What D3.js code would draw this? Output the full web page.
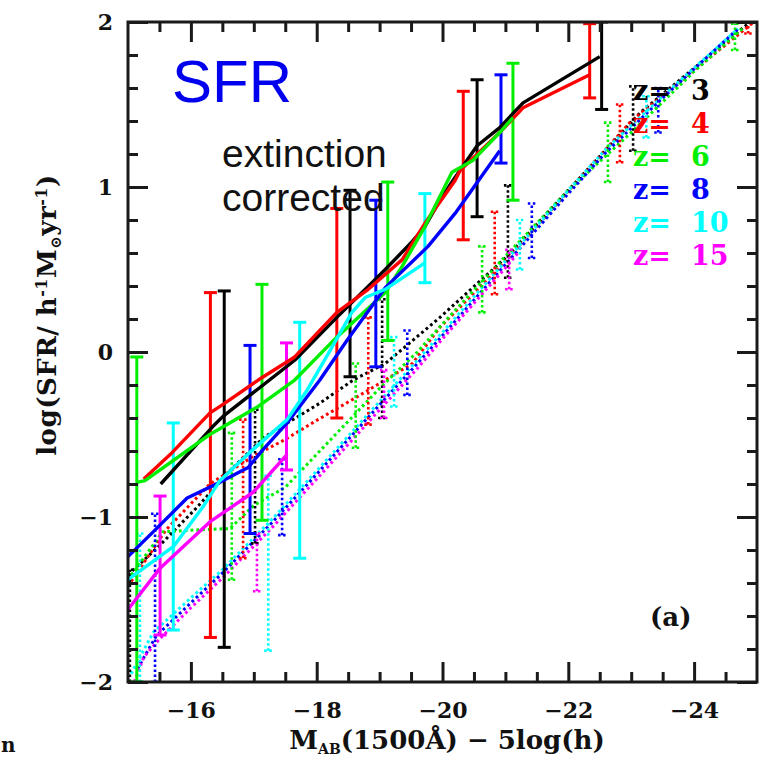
<!DOCTYPE html>
<html>
<head>
<meta charset="utf-8">
<script src="https://cdn.jsdelivr.net/npm/d3@7"></script>
<style>
  html, body { margin: 0; padding: 0; background: #fff; }
  svg { display: block; }
  .tick-label { font-family: "DejaVu Serif", serif; font-weight: bold; font-size: 22px; fill: #111; }
</style>
</head>
<body>
<svg id="chart" width="765" height="765"></svg>
<script>
// ---- data ----------------------------------------------------------------
const redshifts = [3, 4, 6, 8, 10, 15];

// Extinction-corrected mean SFR vs. magnitude: [M_AB, log SFR]
const corrZ3  = [[-15.52,-0.80],[-16.34,-0.455],[-16.51,-0.39],[-17.65,-0.05],[-18.32,0.21],[-19.09,0.50],[-19.52,0.67],[-19.72,0.76],[-19.96,0.92],[-20.15,1.03],[-20.55,1.25],[-20.91,1.36],[-21.28,1.51],[-22.50,1.79]];
const corrZ4  = [[-15.25,-0.77],[-15.70,-0.61],[-16.30,-0.37],[-16.54,-0.31],[-17.07,-0.17],[-17.65,-0.03],[-18.32,0.24],[-18.82,0.38],[-19.36,0.56],[-19.72,0.78],[-20.20,1.04],[-20.28,1.10],[-20.91,1.33],[-21.28,1.48],[-22.34,1.68]];
const corrZ6  = [[-15.14,-0.79],[-15.27,-0.78],[-16.30,-0.50],[-17.07,-0.33],[-17.65,-0.17],[-18.32,0.09],[-19.09,0.36],[-19.36,0.52],[-19.72,0.76],[-20.15,1.09],[-20.48,1.16],[-20.91,1.33],[-21.12,1.42]];
const corrZ8  = [[-15.00,-1.24],[-15.40,-1.09],[-15.94,-0.885],[-16.46,-0.79],[-16.91,-0.70],[-17.15,-0.59],[-17.53,-0.43],[-18.05,-0.17],[-18.48,0.07],[-19.09,0.39],[-19.77,0.64],[-20.20,0.84],[-20.91,1.22]];
const corrZ10 = [[-15.00,-1.38],[-15.72,-1.18],[-16.19,-0.94],[-16.46,-0.78],[-16.99,-0.59],[-17.53,-0.41],[-17.85,-0.23],[-18.26,0.04],[-18.56,0.24],[-18.77,0.33],[-19.09,0.38],[-19.72,0.54]];
const corrZ15 = [[-15.00,-1.56],[-15.51,-1.31],[-16.30,-1.03],[-16.99,-0.85],[-17.53,-0.62]];

// Error bars of the corrected sample: [M_AB, low, high]
const corrErrZ3  = [[-16.53,-1.79,0.37],[-18.53,-0.15,0.98],[-20.55,0.82,1.65],[-22.53,1.47,2.00]];
const corrErrZ4  = [[-16.31,-1.73,0.36],[-18.32,-0.40,0.87],[-20.33,0.68,1.58],[-22.34,1.54,1.99]];
const corrErrZ6  = [[-15.14,-2.00,-0.03],[-17.13,-1.02,0.41],[-19.13,0.07,1.03],[-21.12,0.92,1.75]];
const corrErrZ8  = [[-16.94,-1.10,0.04],[-18.94,-0.09,0.92],[-20.93,1.145,1.68]];
const corrErrZ10 = [[-15.72,-1.685,-0.43],[-17.73,-1.25,0.18],[-19.72,0.42,0.96]];
const corrErrZ15 = [[-15.51,-1.715,-0.873],[-17.52,-0.715,0.055]];

// Uncorrected SFR (dotted): [M_AB, log SFR]
const rawZ3  = [[-15.00,-1.35],[-15.51,-1.17],[-16.10,-0.94],[-16.62,-0.72],[-17.15,-0.52],[-18.05,-0.31],[-18.58,-0.17],[-19.09,-0.07],[-19.96,0.21],[-21.03,0.58],[-23.14,1.45],[-24.89,2.00]];
const rawZ4  = [[-15.00,-1.42],[-15.60,-1.08],[-16.30,-0.80],[-17.00,-0.63],[-17.50,-0.53],[-18.02,-0.41],[-18.56,-0.29],[-19.09,-0.17],[-19.52,-0.07],[-19.96,0.15],[-21.00,0.55],[-23.00,1.40],[-24.95,2.00]];
const rawZ6  = [[-15.00,-1.38],[-15.55,-1.09],[-16.00,-1.08],[-16.62,-1.07],[-17.00,-0.93],[-17.50,-0.82],[-18.00,-0.62],[-19.00,-0.22],[-19.60,0.00],[-20.00,0.17],[-21.00,0.58],[-22.00,0.98],[-23.00,1.33],[-24.00,1.70],[-24.80,1.97]];
const rawZ8  = [[-15.15,-1.92],[-15.45,-1.72],[-16.00,-1.52],[-16.50,-1.34],[-17.30,-1.03],[-18.00,-0.74],[-19.00,-0.32],[-19.60,-0.07],[-20.00,0.10],[-21.00,0.53],[-22.00,0.96],[-22.60,1.21],[-23.50,1.54],[-24.70,1.96]];
const rawZ10 = [[-15.05,-1.95],[-15.40,-1.70],[-16.00,-1.49],[-16.50,-1.32],[-17.30,-1.01],[-18.00,-0.72],[-19.00,-0.30],[-19.60,-0.05],[-20.00,0.12],[-21.00,0.55],[-22.00,0.98],[-22.60,1.23],[-23.50,1.55],[-24.70,1.96]];
const rawZ15 = [[-15.10,-2.00],[-15.25,-1.85],[-15.50,-1.74],[-16.00,-1.55],[-16.50,-1.37],[-17.30,-1.06],[-18.00,-0.77],[-19.00,-0.35],[-19.60,-0.10],[-20.00,0.08],[-21.00,0.51],[-21.20,0.60]];

// Error bars of the uncorrected sample: [M_AB, low, high]
const rawErrZ3  = [[-15.03,-2.00,-1.32],[-17.02,-1.16,-0.35],[-19.04,-0.40,0.32],[-21.04,0.45,1.01],[-23.03,1.22,1.61]];
const rawErrZ4  = [[-16.83,-1.25,-0.41],[-18.82,-0.44,0.21],[-20.83,0.35,0.85],[-22.82,1.15,1.50],[-24.86,1.93,2.00]];
const rawErrZ6  = [[-16.65,-1.38,-0.49],[-18.62,-0.58,-0.07],[-20.63,0.24,0.64],[-22.63,1.03,1.39],[-24.65,1.83,1.99]];
const rawErrZ8  = [[-15.43,-2.00,-0.98],[-17.45,-1.11,-0.65],[-19.44,-0.26,0.13],[-21.42,0.57,0.90],[-23.43,1.33,1.60]];
const rawErrZ10 = [[-15.19,-2.00,-1.10],[-17.23,-1.81,-0.75],[-19.23,-0.33,0.09],[-21.23,0.50,0.80],[-23.24,1.30,1.55]];
const rawErrZ15 = [[-17.05,-1.45,-1.10],[-19.07,-0.40,-0.11],[-21.06,0.38,0.62]];

// Axis ticks
const xMajorTicks = [-16, -18, -20, -22, -24];
const yMajorTicks = [-2, -1, 0, 1, 2];

// ---- drawing ---------------------------------------------------------------
const palette = ["#000000", "#ff0000", "#00ee00", "#0000ff", "#00ffff", "#ff00ff"];
const corrected = [corrZ3, corrZ4, corrZ6, corrZ8, corrZ10, corrZ15];
const correctedErr = [corrErrZ3, corrErrZ4, corrErrZ6, corrErrZ8, corrErrZ10, corrErrZ15];
const raw = [rawZ3, rawZ4, rawZ6, rawZ8, rawZ10, rawZ15];
const rawErr = [rawErrZ3, rawErrZ4, rawErrZ6, rawErrZ8, rawErrZ10, rawErrZ15];

const svg = d3.select("#chart");
const plotLeft = 128, plotRight = 757, plotTop = 22, plotBottom = 682;

const x = d3.scaleLinear().domain([-15, -25]).range([plotLeft, plotRight]);
const y = d3.scaleLinear().domain([-2, 2]).range([plotBottom, plotTop]);

const clipId = "plot-clip";
svg.append("defs").append("clipPath").attr("id", clipId)
  .append("rect").attr("x", plotLeft).attr("y", plotTop)
  .attr("width", plotRight - plotLeft).attr("height", plotBottom - plotTop);

const plot = svg.append("g").attr("clip-path", `url(#${clipId})`);
const line = d3.line().x(d => x(d[0])).y(d => y(d[1]));

// dotted (uncorrected) curves and their error bars
raw.forEach((series, i) => {
  plot.append("path").datum(series)
    .attr("d", line)
    .attr("fill", "none")
    .attr("stroke", palette[i])
    .attr("stroke-width", 3)
    .attr("stroke-dasharray", "2.8,3");
});
rawErr.forEach((bars, i) => {
  const g = plot.append("g")
    .attr("stroke", palette[i])
    .attr("stroke-width", 2.6)
    .attr("stroke-dasharray", "2.5,2.5")
    .attr("fill", "none");
  bars.forEach(b => {
    const cx = x(b[0]);
    g.append("line").attr("x1", cx).attr("x2", cx).attr("y1", y(b[1])).attr("y2", y(b[2]));
    g.append("line").attr("x1", cx - 4).attr("x2", cx + 4).attr("y1", y(b[1])).attr("y2", y(b[1]));
    g.append("line").attr("x1", cx - 4).attr("x2", cx + 4).attr("y1", y(b[2])).attr("y2", y(b[2]));
  });
});

// solid (extinction corrected) error bars and curves
correctedErr.forEach((bars, i) => {
  const g = plot.append("g")
    .attr("stroke", palette[i])
    .attr("stroke-width", 3)
    .attr("fill", "none");
  bars.forEach(b => {
    const cx = x(b[0]);
    g.append("line").attr("x1", cx).attr("x2", cx).attr("y1", y(b[1])).attr("y2", y(b[2]));
    g.append("line").attr("x1", cx - 6.5).attr("x2", cx + 6.5).attr("y1", y(b[1])).attr("y2", y(b[1]));
    g.append("line").attr("x1", cx - 6.5).attr("x2", cx + 6.5).attr("y1", y(b[2])).attr("y2", y(b[2]));
  });
});
corrected.forEach((series, i) => {
  plot.append("path").datum(series)
    .attr("d", line)
    .attr("fill", "none")
    .attr("stroke", palette[i])
    .attr("stroke-width", 3.4)
    .attr("stroke-linejoin", "round");
});

// ---- axes (inward ticks on all four sides) ----------------------------------
const xMinor = d3.range(-15.5, -25, -0.5).filter(v => !xMajorTicks.includes(v));
const yMinor = d3.range(-1.8, 2, 0.2).map(v => +v.toFixed(1)).filter(v => !yMajorTicks.includes(v));

function addAxis(axis, transform, majors, minors, labels) {
  const gMaj = svg.append("g").attr("transform", transform)
    .call(axis.tickValues(majors).tickSize(-20).tickPadding(labels ? 22 : 0)
      .tickFormat(labels ? d3.format("") : () => ""));
  gMaj.select(".domain").remove();
  gMaj.selectAll(".tick line").attr("stroke", "#1a1a1a").attr("stroke-width", 3);
  gMaj.selectAll(".tick text").attr("class", "tick-label").attr("fill", null);
  const gMin = svg.append("g").attr("transform", transform)
    .call(axis.tickValues(minors).tickSize(-10).tickFormat(() => ""));
  gMin.select(".domain").remove();
  gMin.selectAll(".tick line").attr("stroke", "#1a1a1a").attr("stroke-width", 3);
  return gMaj;
}

const xBottom = addAxis(d3.axisBottom(x), `translate(0,${plotBottom})`, xMajorTicks, xMinor, true);
xBottom.selectAll(".tick text").attr("dy", null).attr("y", 36);
addAxis(d3.axisTop(x), `translate(0,${plotTop})`, xMajorTicks, xMinor, false);
const yLeft = addAxis(d3.axisLeft(y), `translate(${plotLeft},0)`, yMajorTicks, yMinor, true);
yLeft.selectAll(".tick text").attr("x", -15).attr("dy", "0.36em");
addAxis(d3.axisRight(y), `translate(${plotRight},0)`, yMajorTicks, yMinor, false);

// frame
svg.append("rect")
  .attr("x", plotLeft).attr("y", plotTop)
  .attr("width", plotRight - plotLeft).attr("height", plotBottom - plotTop)
  .attr("fill", "none").attr("stroke", "#1a1a1a").attr("stroke-width", 3);

// ---- text ---------------------------------------------------------------------
const serif = '"DejaVu Serif", serif';

const xTitle = svg.append("text")
  .attr("x", 447).attr("y", 749)
  .attr("text-anchor", "middle")
  .attr("font-family", serif).attr("font-weight", "bold").attr("font-size", 26)
  .attr("fill", "#111");
xTitle.append("tspan").text("M");
xTitle.append("tspan").attr("font-size", 14).attr("dy", 5).text("AB");
xTitle.append("tspan").attr("dy", -5).text("(1500Å) − 5log(h)");

const yTitle = svg.append("text")
  .attr("transform", "translate(56,315) rotate(-90)")
  .attr("text-anchor", "middle")
  .attr("font-family", serif).attr("font-weight", "bold").attr("font-size", 26)
  .attr("letter-spacing", 0.5)
  .attr("fill", "#111");
yTitle.append("tspan").text("log(SFR/ h");
yTitle.append("tspan").attr("font-size", 16).attr("dy", -9).text("-1");
yTitle.append("tspan").attr("dy", 9).text("M");
yTitle.append("tspan").attr("font-size", 15).attr("dy", 5).text("⊙");
yTitle.append("tspan").attr("dy", -5).text("yr");
yTitle.append("tspan").attr("font-size", 16).attr("dy", -9).text("-1");
yTitle.append("tspan").attr("dy", 9).text(")");

svg.append("text")
  .attr("x", 172).attr("y", 102)
  .attr("font-family", '"Liberation Sans", Arial, sans-serif')
  .attr("font-size", 60)
  .attr("fill", "#0000ee")
  .text("SFR");

const note = svg.append("text")
  .attr("font-family", '"Liberation Sans", Arial, sans-serif')
  .attr("font-size", 39)
  .attr("fill", "#111");
note.append("tspan").attr("x", 222).attr("y", 167).text("extinction");
note.append("tspan").attr("x", 222).attr("y", 211).text("corrected");

// legend
const legend = svg.append("g")
  .attr("font-family", serif).attr("font-weight", "bold").attr("font-size", 27);
redshifts.forEach((z, i) => {
  const yy = 100 + i * 33;
  legend.append("text").attr("x", 633).attr("y", yy).attr("fill", palette[i]).text("z=");
  legend.append("text").attr("x", 691).attr("y", yy).attr("fill", palette[i]).text(z);
});

svg.append("text")
  .attr("x", 650).attr("y", 626)
  .attr("font-family", serif).attr("font-weight", "bold").attr("font-size", 26)
  .attr("fill", "#111")
  .text("(a)");

svg.append("text")
  .attr("x", 1).attr("y", 752)
  .attr("font-family", serif).attr("font-weight", "bold").attr("font-size", 20)
  .attr("fill", "#111")
  .text("n");
</script>
</body>
</html>
